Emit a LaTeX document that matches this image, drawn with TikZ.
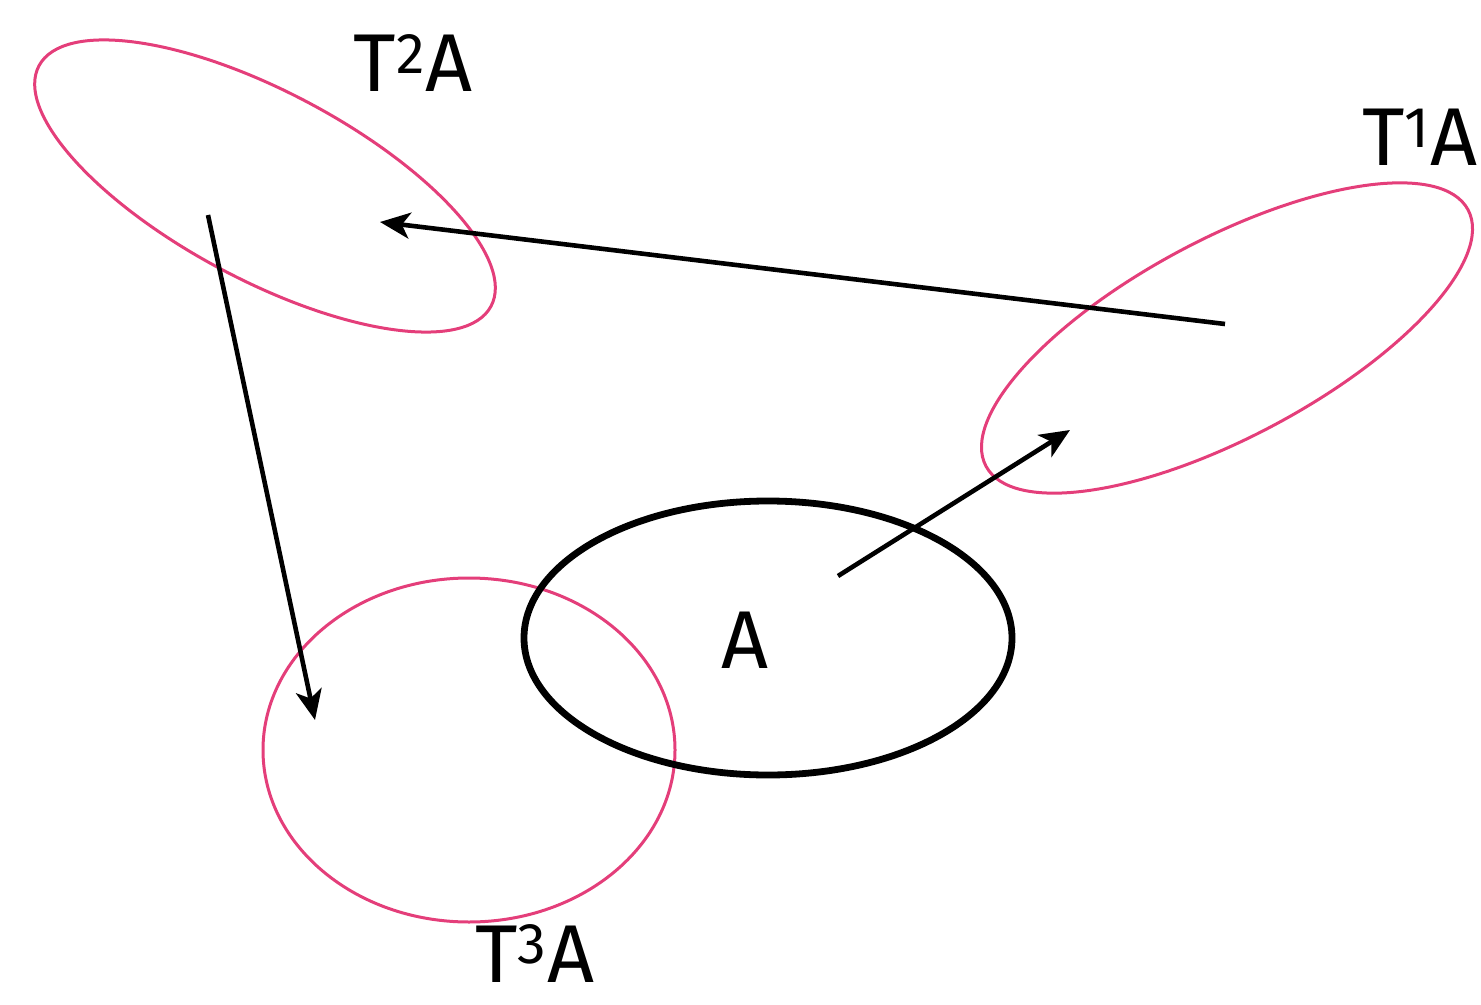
\documentclass[tikz,border=0pt]{standalone}
\usepackage{fontspec}
\setmainfont{Fira Sans}
\usetikzlibrary{arrows.meta}
\definecolor{pinkline}{RGB}{228,62,122}
\tikzset{
  pinkell/.style={draw=pinkline,line width=1.5pt},
  blackell/.style={draw=black,line width=3.4pt},
  maparrow/.style={draw=black,line width=2.3pt,-{Stealth[length=15pt,width=13pt,inset=4pt]}},
  lbl/.style={font=\fontsize{41}{41}\selectfont,inner sep=0pt,anchor=base}
}
\begin{document}
\begin{tikzpicture}[x=0.5pt,y=-0.5pt]
\useasboundingbox (0,0) rectangle (1481,1005);
% ellipses
\draw[pinkell,rotate around={-28:(265,186)}] (265,186) ellipse [x radius=256,y radius=94];
\draw[pinkell,rotate around={28:(1227,338)}] (1227,338) ellipse [x radius=273,y radius=99];
\draw[pinkell] (469,750) ellipse [x radius=206,y radius=172];
\draw[blackell] (768,638) ellipse [x radius=244,y radius=137];
% labels
\node[lbl] (t2) at (413,92) {T\textsuperscript{2}A};
\node[lbl] (t1) at (1420,166) {T\textsuperscript{1}A};
\node[lbl] (t3) at (535,982) {T\textsuperscript{3}A};
\node[lbl] (a) at (745,668) {A};
% arrow endpoints
\coordinate (s1) at (838,576);
\coordinate (e1) at (1070,430);
\coordinate (s2) at (1225,324);
\coordinate (e2) at (380,222);
\coordinate (s3) at (208,215);
\coordinate (e3) at (315,720);
\draw[maparrow] (s1) -- (e1);
\draw[maparrow] (s2) -- (e2);
\draw[maparrow] (s3) -- (e3);
\end{tikzpicture}
\end{document}
